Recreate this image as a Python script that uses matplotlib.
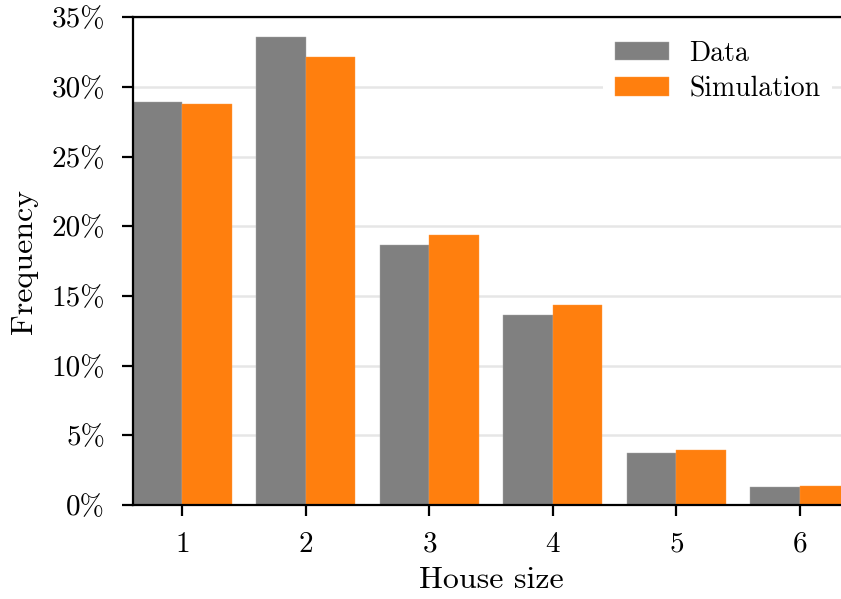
import matplotlib
matplotlib.use("Agg")
import matplotlib.pyplot as plt
import numpy as np
from matplotlib.ticker import FuncFormatter

plt.rcParams["font.family"] = ["cmr10", "DejaVu Serif"]
plt.rcParams["mathtext.fontset"] = "cm"
plt.rcParams["axes.unicode_minus"] = False
plt.rcParams["axes.formatter.use_mathtext"] = True

house_sizes = [1, 2, 3, 4, 5, 6]
data_freq = [28.90, 33.61, 18.65, 13.64, 3.76, 1.32]
sim_freq = [28.80, 32.17, 19.37, 14.32, 3.98, 1.39]
y_ticks = [0, 5, 10, 15, 20, 25, 30, 35]

W, H = 841, 599
fig = plt.figure(figsize=(W / 100, H / 100), dpi=100)
ax = fig.add_axes([133 / W, 1 - 505 / H, (849 - 133) / W, (505 - 17.3) / H])

x = np.array(house_sizes, dtype=float)
bw = 0.4
ax.bar(x - bw / 2, data_freq, width=bw, color="#808080", edgecolor="#a8a8a8",
       linewidth=0.3, label="Data", zorder=2)
ax.bar(x + bw / 2, sim_freq, width=bw, color="#ff7f0e", edgecolor="#ff9a40",
       linewidth=0.3, label="Simulation", zorder=2)

ax.set_xlim(0.6, 6.4)
ax.set_ylim(0, 35)
ax.set_xticks(house_sizes)
ax.set_yticks(y_ticks)
ax.yaxis.set_major_formatter(FuncFormatter(lambda v, p: f"{v:.0f}%"))

ax.grid(axis="y", color="#e6e6e6", linewidth=1.8, zorder=0)
ax.set_axisbelow(True)

for s in ["left", "bottom", "top"]:
    ax.spines[s].set_linewidth(1.6)
    ax.spines[s].set_color("black")
ax.spines["right"].set_visible(False)

ax.tick_params(axis="both", direction="out", length=8, width=1.6,
               labelsize=21)
ax.tick_params(axis="y", pad=12)
ax.tick_params(axis="x", pad=11)

ax.set_xlabel("House size", fontsize=23, labelpad=6)
ax.set_ylabel("Frequency", fontsize=23, labelpad=10)

leg = ax.legend(loc="upper left", bbox_to_anchor=(0.657, 0.975), fontsize=20,
                frameon=True, framealpha=1, edgecolor="none", fancybox=False,
                handlelength=1.95, handleheight=0.65, handletextpad=0.75,
                labelspacing=0.33, borderaxespad=0)
leg.get_frame().set_facecolor("white")

fig.savefig("out.png", dpi=100)
